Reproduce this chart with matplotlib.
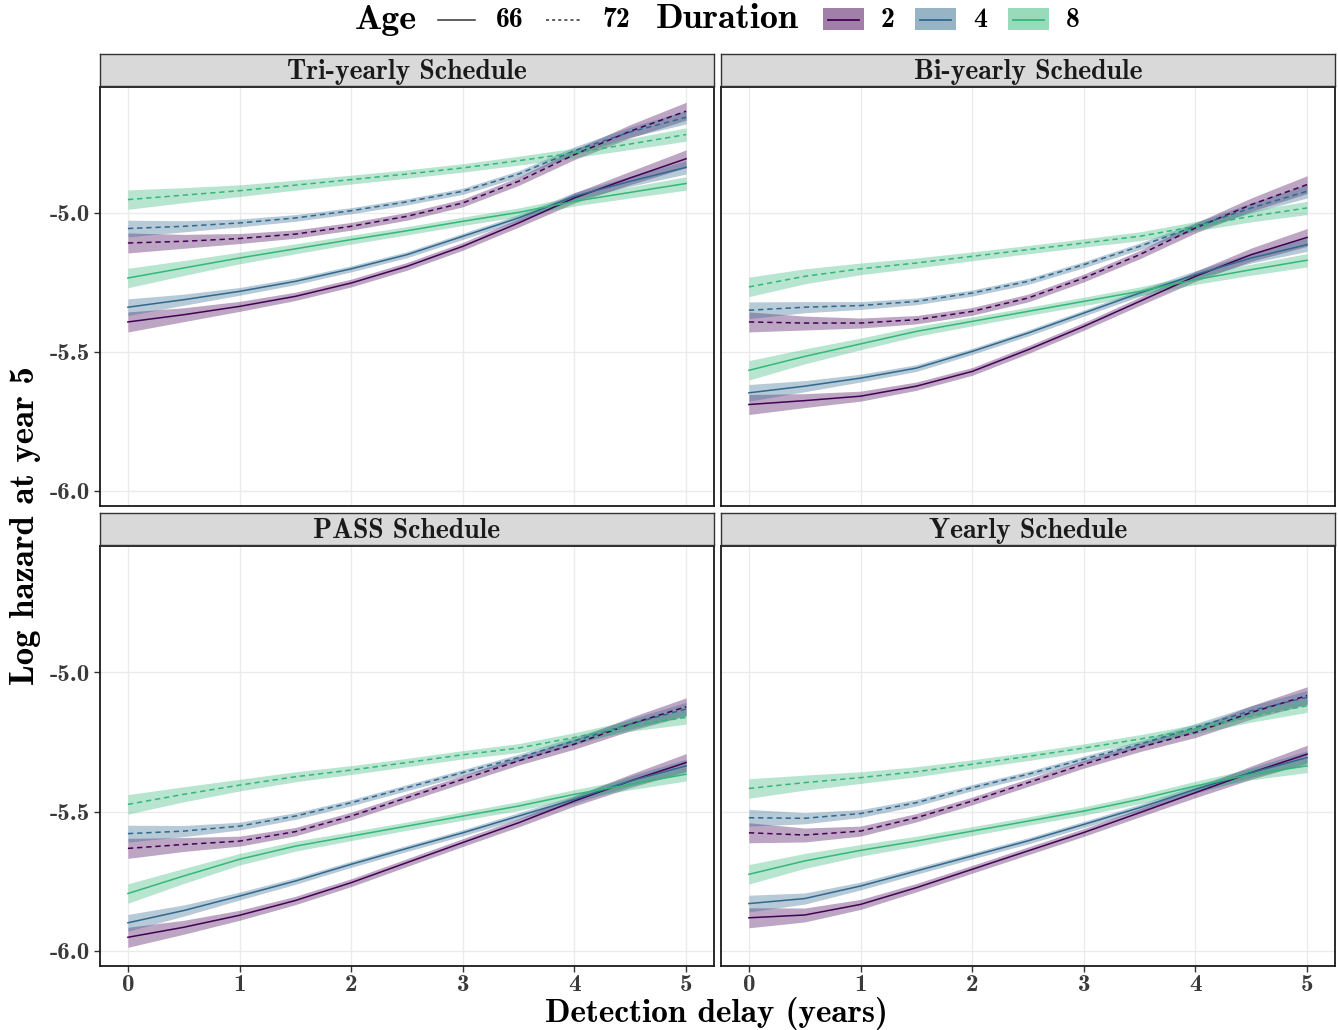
import matplotlib.pyplot as plt
from matplotlib.lines import Line2D
from matplotlib.patches import Rectangle
from matplotlib.ticker import FormatStrFormatter

# detection delay grid (years)
delay = [0, 0.5, 1, 1.5, 2, 2.5, 3, 3.5, 4, 4.5, 5]

# log hazard at year 5: <schedule>_<age>_<duration>
tri_66_2 = [-5.392, -5.366, -5.336, -5.300, -5.252, -5.192, -5.120, -5.036, -4.946, -4.874, -4.805]
tri_66_4 = [-5.339, -5.312, -5.282, -5.246, -5.201, -5.150, -5.084, -5.018, -4.940, -4.886, -4.836]
tri_66_8 = [-5.234, -5.198, -5.162, -5.129, -5.096, -5.064, -5.030, -4.998, -4.958, -4.926, -4.894]
tri_72_2 = [-5.108, -5.102, -5.092, -5.076, -5.048, -5.012, -4.964, -4.886, -4.790, -4.706, -4.634]
tri_72_4 = [-5.056, -5.048, -5.036, -5.018, -4.992, -4.960, -4.922, -4.860, -4.776, -4.709, -4.656]
tri_72_8 = [-4.952, -4.936, -4.920, -4.900, -4.880, -4.860, -4.838, -4.812, -4.784, -4.752, -4.718]

bi_66_2 = [-5.689, -5.675, -5.659, -5.623, -5.570, -5.492, -5.408, -5.318, -5.228, -5.150, -5.088]
bi_66_4 = [-5.647, -5.623, -5.594, -5.558, -5.498, -5.432, -5.360, -5.288, -5.222, -5.162, -5.114]
bi_66_8 = [-5.566, -5.516, -5.471, -5.426, -5.390, -5.354, -5.318, -5.282, -5.240, -5.204, -5.170]
bi_72_2 = [-5.392, -5.396, -5.396, -5.384, -5.354, -5.306, -5.234, -5.150, -5.054, -4.970, -4.898]
bi_72_4 = [-5.350, -5.339, -5.333, -5.318, -5.288, -5.246, -5.186, -5.120, -5.048, -4.982, -4.922]
bi_72_8 = [-5.266, -5.228, -5.201, -5.180, -5.156, -5.132, -5.108, -5.084, -5.048, -5.012, -4.982]

pass_66_2 = [-5.951, -5.915, -5.872, -5.819, -5.755, -5.683, -5.611, -5.540, -5.462, -5.390, -5.324]
pass_66_4 = [-5.899, -5.855, -5.803, -5.749, -5.689, -5.632, -5.576, -5.516, -5.456, -5.390, -5.336]
pass_66_8 = [-5.794, -5.731, -5.671, -5.624, -5.588, -5.552, -5.516, -5.480, -5.438, -5.402, -5.366]
pass_72_2 = [-5.632, -5.618, -5.606, -5.572, -5.516, -5.450, -5.384, -5.318, -5.258, -5.186, -5.124]
pass_72_4 = [-5.579, -5.570, -5.552, -5.516, -5.468, -5.414, -5.360, -5.306, -5.246, -5.186, -5.132]
pass_72_8 = [-5.474, -5.438, -5.405, -5.375, -5.351, -5.324, -5.296, -5.272, -5.234, -5.192, -5.162]

yr_66_2 = [-5.881, -5.871, -5.833, -5.773, -5.707, -5.641, -5.575, -5.504, -5.432, -5.360, -5.294]
yr_66_4 = [-5.830, -5.812, -5.767, -5.713, -5.659, -5.605, -5.546, -5.486, -5.420, -5.360, -5.306]
yr_66_8 = [-5.725, -5.677, -5.639, -5.606, -5.570, -5.534, -5.498, -5.456, -5.408, -5.366, -5.336]
yr_72_2 = [-5.576, -5.584, -5.570, -5.522, -5.462, -5.396, -5.330, -5.270, -5.216, -5.144, -5.084]
yr_72_4 = [-5.522, -5.524, -5.507, -5.468, -5.414, -5.366, -5.312, -5.258, -5.198, -5.138, -5.090]
yr_72_8 = [-5.417, -5.396, -5.378, -5.357, -5.330, -5.302, -5.272, -5.240, -5.204, -5.159, -5.120]

# approximate half-width of the confidence band per duration
band_2 = [0.036, 0.025, 0.018, 0.015, 0.014, 0.014, 0.014, 0.015, 0.018, 0.024, 0.032]
band_4 = [0.030, 0.020, 0.014, 0.012, 0.011, 0.011, 0.011, 0.012, 0.014, 0.018, 0.024]
band_8 = [0.035, 0.027, 0.021, 0.018, 0.016, 0.015, 0.015, 0.016, 0.017, 0.020, 0.024]

schedules = ['Tri-yearly Schedule', 'Bi-yearly Schedule', 'PASS Schedule', 'Yearly Schedule']
durations = [2, 4, 8]
ages = [66, 72]
colors = {2: '#440154', 4: '#31688E', 8: '#35B779'}
bands = {2: band_2, 4: band_4, 8: band_8}
styles = {66: '-', 72: (0, (3.5, 2.5))}

panels = {
    'Tri-yearly Schedule': {(66, 2): tri_66_2, (66, 4): tri_66_4, (66, 8): tri_66_8,
                            (72, 2): tri_72_2, (72, 4): tri_72_4, (72, 8): tri_72_8},
    'Bi-yearly Schedule': {(66, 2): bi_66_2, (66, 4): bi_66_4, (66, 8): bi_66_8,
                           (72, 2): bi_72_2, (72, 4): bi_72_4, (72, 8): bi_72_8},
    'PASS Schedule': {(66, 2): pass_66_2, (66, 4): pass_66_4, (66, 8): pass_66_8,
                      (72, 2): pass_72_2, (72, 4): pass_72_4, (72, 8): pass_72_8},
    'Yearly Schedule': {(66, 2): yr_66_2, (66, 4): yr_66_4, (66, 8): yr_66_8,
                        (72, 2): yr_72_2, (72, 4): yr_72_4, (72, 8): yr_72_8},
}

plt.rcParams['font.family'] = 'cmb10'
plt.rcParams['axes.unicode_minus'] = False
plt.rcParams['mathtext.fontset'] = 'cm'

W, H = 1338, 1030
fig = plt.figure(figsize=(W / 100, H / 100), dpi=100)


def fx(x):
    return x / W


def fy(y):
    return 1 - y / H


# panel boxes in pixels: left, right, top, bottom
boxes = [(100, 714, 87, 506), (721, 1335, 87, 506),
         (100, 714, 546, 966), (721, 1335, 546, 966)]

for i, name in enumerate(schedules):
    l, r, t, b = boxes[i]
    ax = fig.add_axes([fx(l), fy(b), fx(r) - fx(l), fy(t) - fy(b)])
    ax.set_facecolor('white')
    ax.set_xlim(-0.25, 5.25)
    ax.set_ylim(-6.054, -4.547)
    ax.set_xticks([0, 1, 2, 3, 4, 5])
    ax.set_yticks([-6.0, -5.5, -5.0])
    ax.grid(True, color='#EBEBEB', linewidth=1.0)
    ax.set_axisbelow(True)
    for s in ax.spines.values():
        s.set_color('#1a1a1a')
        s.set_linewidth(1.3)
    ax.tick_params(colors='#333333', labelcolor='#3a3a3a', labelsize=18, length=4, width=1,
                   pad=3)
    ax.tick_params(axis='x', pad=2)
    ax.yaxis.set_major_formatter(FormatStrFormatter('%.1f'))
    if i % 2 == 1:
        ax.tick_params(axis='y', left=False, labelleft=False)
    if i < 2:
        ax.tick_params(axis='x', bottom=False, labelbottom=False)

    data = panels[name]
    for age in ages:
        for d in durations:
            y = data[(age, d)]
            lo = [v - w for v, w in zip(y, bands[d])]
            hi = [v + w for v, w in zip(y, bands[d])]
            ax.fill_between(delay, lo, hi, color=colors[d], alpha=0.35, linewidth=0)
    for age in ages:
        for d in durations:
            ax.plot(delay, data[(age, d)], color=colors[d], linestyle=styles[age], linewidth=1.1)

    # facet strip
    sax = fig.add_axes([fx(l), fy(t - 1), fx(r) - fx(l), fy(t - 33) - fy(t - 1)])
    sax.set_facecolor('#D9D9D9')
    sax.set_xticks([])
    sax.set_yticks([])
    for s in sax.spines.values():
        s.set_color('#333333')
        s.set_linewidth(1.0)
    sax.text(0.5, 0.45, name, ha='center', va='center', fontsize=20, color='#1a1a1a',
             transform=sax.transAxes)

# axis titles
fig.text(fx(716), fy(1014), 'Detection delay (years)', ha='center', va='center',
         fontsize=24)
fig.text(fx(26), fy(526), 'Log hazard at year 5', ha='center', va='center',
         rotation=90, fontsize=25)

# legend along the top
ly = fy(20)
fig.text(fx(355), ly, 'Age', ha='left', va='center', fontsize=26)
fig.add_artist(Line2D([fx(438), fx(475)], [ly, ly], color='#333333', linewidth=1.1,
                      transform=fig.transFigure))
fig.text(fx(496), ly, '66', ha='left', va='center', fontsize=20)
fig.add_artist(Line2D([fx(546), fx(580)], [ly, ly], color='#333333', linewidth=1.1,
                      linestyle=(0, (2, 2)), transform=fig.transFigure))
fig.text(fx(602), ly, '72', ha='left', va='center', fontsize=20)
fig.text(fx(656), ly, 'Duration', ha='left', va='center', fontsize=26)
key_x = {2: 823, 4: 915, 8: 1008}
for d in durations:
    x0 = key_x[d]
    fig.add_artist(Rectangle((fx(x0), fy(30)), fx(41), 22 / H, facecolor=colors[d],
                             alpha=0.5, edgecolor='none', transform=fig.transFigure))
    fig.add_artist(Line2D([fx(x0 + 5), fx(x0 + 36)], [ly, ly], color=colors[d],
                          linewidth=1.3, transform=fig.transFigure))
    fig.text(fx(x0 + 58), ly, str(d), ha='left', va='center', fontsize=20)

fig.savefig('out.png', dpi=100)
